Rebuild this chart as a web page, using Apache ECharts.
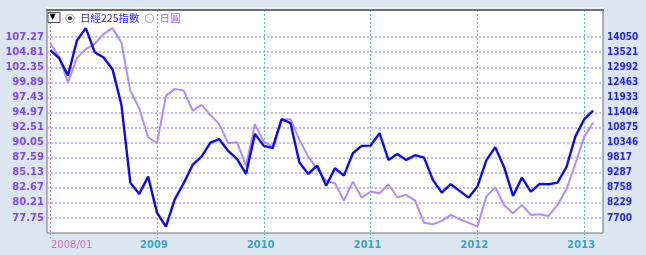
<!DOCTYPE html>
<html>
<head>
<meta charset="utf-8">
<script src="https://cdn.jsdelivr.net/npm/echarts@6/dist/echarts.min.js"></script>
<style>
  html, body { margin: 0; padding: 0; background: #dce6f0; }
  #chart { width: 646px; height: 255px; }
</style>
</head>
<body>
<div id="chart"></div>
<script>
// months 2008/01 .. 2013/02
var months = [
  '2008/01','2008/02','2008/03','2008/04','2008/05','2008/06','2008/07','2008/08','2008/09','2008/10','2008/11','2008/12',
  '2009/01','2009/02','2009/03','2009/04','2009/05','2009/06','2009/07','2009/08','2009/09','2009/10','2009/11','2009/12',
  '2010/01','2010/02','2010/03','2010/04','2010/05','2010/06','2010/07','2010/08','2010/09','2010/10','2010/11','2010/12',
  '2011/01','2011/02','2011/03','2011/04','2011/05','2011/06','2011/07','2011/08','2011/09','2011/10','2011/11','2011/12',
  '2012/01','2012/02','2012/03','2012/04','2012/05','2012/06','2012/07','2012/08','2012/09','2012/10','2012/11','2012/12',
  '2013/01','2013/02'
];

var nikkei = [
  13592, 13311, 12700, 13930, 14365, 13522, 13332, 12925, 11670, 8940, 8543, 9151,
  7886, 7394, 8357, 8919, 9560, 9854, 10346, 10465, 10054, 9763, 9246, 10652,
  10230, 10149, 11168, 11027, 9643, 9246, 9538, 8835, 9446, 9186, 9973, 10230,
  10240, 10676, 9738, 9949, 9738, 9903, 9819, 9035, 8589, 8884, 8649, 8413,
  8800, 9720, 10184, 9481, 8473, 9116, 8624, 8895, 8884, 8940, 9481, 10557,
  11168, 11470
];

var yen = [
  106.29, 104.10, 99.85, 103.84, 105.31, 106.17, 107.81, 108.74, 106.39, 98.54, 95.67, 90.93,
  89.95, 97.68, 98.82, 98.54, 95.28, 96.21, 94.57, 93.06, 89.95, 90.12, 86.24, 93.06,
  90.21, 89.40, 93.87, 93.87, 90.49, 87.76, 85.71, 83.84, 83.42, 80.58, 83.68, 81.07,
  82.05, 81.78, 83.25, 81.13, 81.51, 80.58, 76.98, 76.72, 77.26, 78.24, 77.54, 76.98,
  76.33, 81.23, 82.76, 79.87, 78.52, 79.87, 78.24, 78.35, 78.08, 79.87, 82.44, 86.57,
  91.03, 93.32
];

var yenTicks = [77.75, 80.21, 82.67, 85.13, 87.59, 90.05, 92.51, 94.97, 97.43, 99.89, 102.35, 104.81, 107.27];
var nikkeiTicks = [7700, 8229, 8758, 9287, 9817, 10346, 10875, 11404, 11933, 12463, 12992, 13521, 14050];
var yearMonths = ['2008/01', '2009/01', '2010/01', '2011/01', '2012/01', '2013/01'];
var yearLabels = ['2008/01', '2009', '2010', '2011', '2012', '2013'];

// x is a month index counted from 2008/01
var yearIdx = yearMonths.map(function (m) { return months.indexOf(m); });

function radioIcon(on) {
  var svg = "<svg xmlns='http://www.w3.org/2000/svg' width='20' height='20'>" +
    "<circle cx='10' cy='10' r='8.6' fill='#f6f6f6' stroke='#8a8a8a' stroke-width='1.6'/>" +
    (on ? "<circle cx='10' cy='10' r='4.2' fill='#3c3c3c'/>" : '') + '</svg>';
  return 'image://data:image/svg+xml;utf8,' + encodeURIComponent(svg);
}

var chart = echarts.init(document.getElementById('chart'), null, { renderer: 'canvas' });

var option = {
  backgroundColor: '#dce6f0',
  animation: false,
  textStyle: { fontFamily: 'DejaVu Sans' },
  grid: {
    left: 47, right: 43, top: 10, bottom: 22,
    show: true,
    backgroundColor: '#ffffff',
    borderColor: '#6e6e6e',
    borderWidth: 1
  },
  legend: {
    left: 65, top: 13,
    padding: 0,
    itemWidth: 10, itemHeight: 10,
    itemGap: 5,
    selectedMode: false,
    textStyle: { fontSize: 10.5, fontFamily: 'Noto Sans CJK TC' },
    data: [
      { name: '日經225指數', icon: radioIcon(true), textStyle: { color: '#2a2af0' } },
      { name: '日圓', icon: radioIcon(false), textStyle: { color: '#a466f2' } }
    ]
  },
  graphic: [
    { type: 'line', shape: { x1: 46, y1: 8, x2: 604, y2: 8 }, style: { stroke: '#ffffff', lineWidth: 1 }, z: 10 },
    { type: 'line', shape: { x1: 46, y1: 10, x2: 604, y2: 10 }, style: { stroke: '#6e6e6e', lineWidth: 2 }, z: 10 },
    { type: 'rect', shape: { x: 48, y: 12.5, width: 12, height: 10 }, style: { fill: '#f2f2f2', stroke: '#555', lineWidth: 1 }, z: 10 },
    { type: 'text', left: 49.5, top: 13, style: { text: '▼', fill: '#000', fontSize: 8, fontFamily: 'DejaVu Sans' }, z: 11 }
  ],
  xAxis: {
    type: 'value',
    min: -0.36,
    max: 62.11,
    axisLine: { show: false },
    axisTick: {
      show: true, length: 5,
      customValues: yearIdx,
      lineStyle: { color: '#5bbcd6', type: [2, 2] }
    },
    splitLine: {
      show: true,
      lineStyle: {
        color: ['#d070d8', '#5bbcd6', '#5bbcd6', '#5bbcd6', '#5bbcd6', '#5bbcd6'],
        type: [2, 2], width: 1
      }
    },
    axisLabel: {
      customValues: yearIdx,
      margin: 7,
      hideOverlap: false,
      formatter: function (value) {
        var i = yearIdx.indexOf(value);
        if (i < 0) return '';
        return i === 0 ? '{a|' + yearLabels[i] + '}' : '{b|' + yearLabels[i] + '}';
      },
      rich: {
        a: { color: '#c46cc8', fontSize: 10, fontFamily: 'DejaVu Sans', padding: [0, 0, 0, 43] },
        b: { color: '#3aa3c2', fontSize: 10, fontWeight: 'bold', fontFamily: 'DejaVu Sans', padding: [0, 6, 0, 0] }
      }
    }
  },
  yAxis: [
    {
      type: 'value',
      position: 'left',
      min: 75.29, max: 111.70,
      axisLine: { show: false },
      axisTick: { show: false, customValues: yenTicks },
      axisLabel: {
        customValues: yenTicks,
        margin: 3,
        color: '#8048ee',
        fontSize: 10, fontWeight: 'bold',
        formatter: function (v) { return v.toFixed(2); }
      },
      splitLine: { show: true, lineStyle: { color: '#b3a3f3', type: [2, 2], width: 1.5 } }
    },
    {
      type: 'value',
      position: 'right',
      min: 7170.83, max: 15002.5,
      axisLine: { show: false },
      axisTick: { show: false, customValues: nikkeiTicks },
      axisLabel: {
        customValues: nikkeiTicks,
        margin: 4,
        color: '#2424ee',
        fontSize: 10, fontWeight: 'bold',
        fontFamily: '"DejaVu Sans Condensed", "DejaVu Sans"',
        formatter: function (v) { return String(Math.round(v)); }
      },
      splitLine: { show: false }
    }
  ],
  series: [
    {
      name: '日經225指數',
      type: 'line',
      yAxisIndex: 1,
      z: 3,
      symbol: 'none',
      color: '#0a0aee',
      lineStyle: { width: 2.4, color: '#0a0aee' },
      data: nikkei.map(function (v, i) { return [i, v]; })
    },
    {
      name: '日圓',
      type: 'line',
      yAxisIndex: 0,
      z: 2,
      symbol: 'none',
      color: '#b28cf6',
      lineStyle: { width: 2, color: '#b28cf6' },
      data: yen.map(function (v, i) { return [i, v]; })
    }
  ]
};

chart.setOption(option);
</script>
</body>
</html>
